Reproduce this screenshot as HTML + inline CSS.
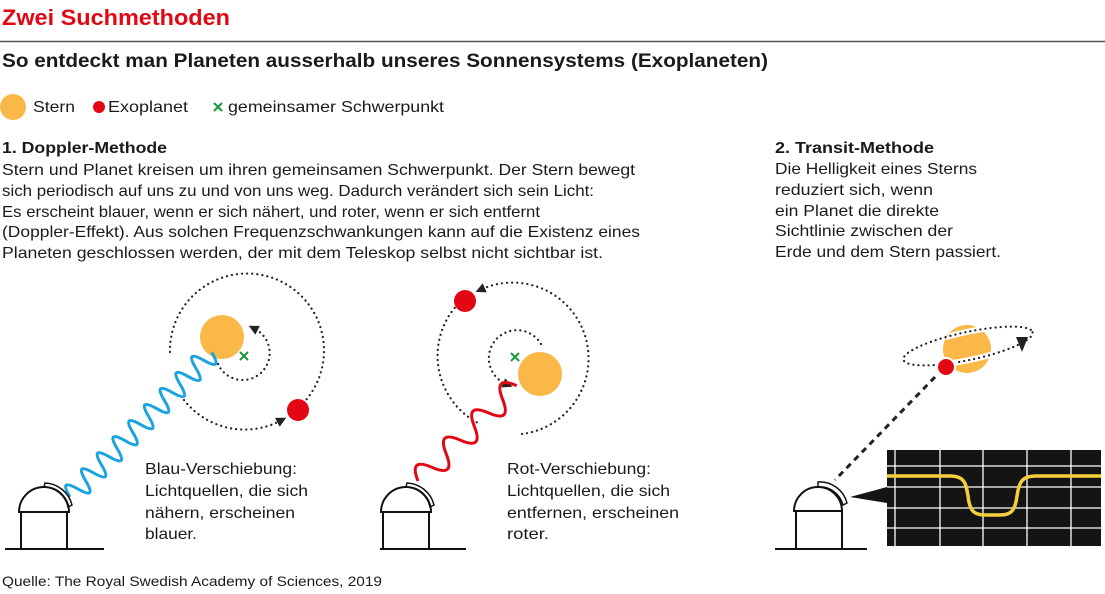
<!DOCTYPE html>
<html><head><meta charset="utf-8"><style>
html,body{margin:0;padding:0;background:#fff}
svg{display:block}
text{font-family:"Liberation Sans",sans-serif;fill:#1a1a1a}
.b{font-weight:bold}
.t{font-size:16px}
</style></head><body>
<svg width="1105" height="594" viewBox="0 0 1105 594" xmlns="http://www.w3.org/2000/svg">
<defs>
<marker id="ar" viewBox="0 0 10 10" refX="3" refY="5" markerWidth="10" markerHeight="10" markerUnits="userSpaceOnUse" orient="auto"><path d="M0,0 L10,5 L0,10 z" fill="#222"/></marker>
<clipPath id="sc"><circle cx="967" cy="349" r="24"/></clipPath>
</defs>
<text x="2" y="25" class="b" font-size="22" fill="#e30613" style="fill:#e30613" textLength="228" lengthAdjust="spacingAndGlyphs">Zwei Suchmethoden</text>
<line x1="0" y1="41.5" x2="1105" y2="41.5" stroke="#555" stroke-width="1.5"/>
<text x="2" y="67" class="b" font-size="19" textLength="766" lengthAdjust="spacingAndGlyphs">So entdeckt man Planeten ausserhalb unseres Sonnensystems (Exoplaneten)</text>
<circle cx="13" cy="107" r="13" fill="#f9b847"/>
<text x="33" y="112" class="t" textLength="42" lengthAdjust="spacingAndGlyphs">Stern</text>
<circle cx="99" cy="107" r="6" fill="#e30613"/>
<text x="108" y="112" class="t" textLength="80" lengthAdjust="spacingAndGlyphs">Exoplanet</text>
<g stroke="#1a9a3a" stroke-width="2"><line x1="214" y1="103" x2="222" y2="111"/><line x1="222" y1="103" x2="214" y2="111"/></g>
<text x="228" y="112" class="t" textLength="216" lengthAdjust="spacingAndGlyphs">gemeinsamer Schwerpunkt</text>

<text x="2" y="153" class="b t" textLength="165" lengthAdjust="spacingAndGlyphs">1. Doppler-Methode</text>
<text x="2" y="175" class="t" textLength="633" lengthAdjust="spacingAndGlyphs">Stern und Planet kreisen um ihren gemeinsamen Schwerpunkt. Der Stern bewegt</text>
<text x="2" y="196" class="t" textLength="592" lengthAdjust="spacingAndGlyphs">sich periodisch auf uns zu und von uns weg. Dadurch verändert sich sein Licht:</text>
<text x="2" y="217" class="t" textLength="538" lengthAdjust="spacingAndGlyphs">Es erscheint blauer, wenn er sich nähert, und roter, wenn er sich entfernt</text>
<text x="2" y="237" class="t" textLength="638" lengthAdjust="spacingAndGlyphs">(Doppler-Effekt). Aus solchen Frequenzschwankungen kann auf die Existenz eines</text>
<text x="2" y="258" class="t" textLength="601" lengthAdjust="spacingAndGlyphs">Planeten geschlossen werden, der mit dem Teleskop selbst nicht sichtbar ist.</text>

<text x="775" y="153" class="b t" textLength="159" lengthAdjust="spacingAndGlyphs">2. Transit-Methode</text>
<text x="775" y="174" class="t" textLength="202" lengthAdjust="spacingAndGlyphs">Die Helligkeit eines Sterns</text>
<text x="775" y="195" class="t" textLength="158" lengthAdjust="spacingAndGlyphs">reduziert sich, wenn</text>
<text x="775" y="216" class="t" textLength="164" lengthAdjust="spacingAndGlyphs">ein Planet die direkte</text>
<text x="775" y="236" class="t" textLength="178" lengthAdjust="spacingAndGlyphs">Sichtlinie zwischen der</text>
<text x="775" y="257" class="t" textLength="226" lengthAdjust="spacingAndGlyphs">Erde und dem Stern passiert.</text>

<!-- LEFT diagram -->
<g fill="none" stroke="#222" stroke-width="2.2" stroke-dasharray="0.1 5" stroke-linecap="round">
<path d="M170,352 A77,77 0 1 1 306,400"/>
<path d="M184,400 A77,77 0 0 0 280,421" marker-end="url(#ar)"/>
<path d="M218,364 A27,27 0 1 0 255,329" marker-end="url(#ar)"/>
</g>
<circle cx="222" cy="337" r="22" fill="#f9b847"/>
<g stroke="#1a9a3a" stroke-width="2"><line x1="240" y1="352" x2="248" y2="360"/><line x1="248" y1="352" x2="240" y2="360"/></g>
<circle cx="298" cy="410" r="11" fill="#e30613"/>
<path transform="translate(70,497) rotate(-45.6)" fill="none" stroke="#1aa3e0" stroke-width="3" d="M0,0 q5.6,-22 11.25,0 t11.25,0 t11.25,0 t11.25,0 t11.25,0 t11.25,0 t11.25,0 t11.25,0 t11.25,0 t11.25,0 t11.25,0 t11.25,0 t11.25,0 t11.25,0 t11.25,0 t11.25,0 t11.25,0 t11.25,0"/>
<text x="145" y="474" class="t" textLength="152" lengthAdjust="spacingAndGlyphs">Blau-Verschiebung:</text>
<text x="145" y="496" class="t" textLength="163" lengthAdjust="spacingAndGlyphs">Lichtquellen, die sich</text>
<text x="145" y="518" class="t" textLength="150" lengthAdjust="spacingAndGlyphs">nähern, erscheinen</text>
<text x="145" y="539" class="t" textLength="52" lengthAdjust="spacingAndGlyphs">blauer.</text>
<g fill="none" stroke="#111" stroke-width="2">
<line x1="5" y1="549" x2="104" y2="549"/>
<path d="M21,549 V512 H67 V549"/>
<path d="M19,512 A25,25 0 0 1 69,512 Z"/>
<path d="M45,483 A29,29 0 0 1 72,505 L68,507 A25,25 0 0 0 44,487 Z" stroke-width="1.5"/>
</g>

<!-- MIDDLE diagram -->
<g fill="none" stroke="#222" stroke-width="2.2" stroke-dasharray="0.1 5" stroke-linecap="round">
<path d="M522,434 A76,76 0 1 0 482,289" marker-end="url(#ar)"/>
<path d="M458,304 A76,76 0 0 0 478,423"/>
<path d="M541,344 A28,28 0 1 0 506,384" marker-end="url(#ar)"/>
</g>
<circle cx="465" cy="301" r="11" fill="#e30613"/>
<circle cx="540" cy="374" r="22" fill="#f9b847"/>
<g stroke="#1a9a3a" stroke-width="2"><line x1="511" y1="353" x2="519" y2="361"/><line x1="519" y1="353" x2="511" y2="361"/></g>
<path transform="translate(418,481) rotate(-44)" fill="none" stroke="#e30613" stroke-width="3" d="M0,0 q9.8,-24 19.6,0 t19.6,0 t19.6,0 t19.6,0 t19.6,0 t19.6,0 t19.6,0"/>
<text x="507" y="474" class="t" textLength="144" lengthAdjust="spacingAndGlyphs">Rot-Verschiebung:</text>
<text x="507" y="496" class="t" textLength="163" lengthAdjust="spacingAndGlyphs">Lichtquellen, die sich</text>
<text x="507" y="518" class="t" textLength="172" lengthAdjust="spacingAndGlyphs">entfernen, erscheinen</text>
<text x="507" y="539" class="t" textLength="42" lengthAdjust="spacingAndGlyphs">roter.</text>
<g fill="none" stroke="#111" stroke-width="2">
<line x1="380" y1="549" x2="466" y2="549"/>
<path d="M383,549 V512 H429 V549"/>
<path d="M381,512 A25,25 0 0 1 431,512 Z"/>
<path d="M407,483 A29,29 0 0 1 434,505 L430,507 A25,25 0 0 0 406,487 Z" stroke-width="1.5"/>
</g>

<!-- RIGHT diagram -->
<circle cx="967" cy="349" r="24" fill="#f9b847"/>
<g transform="rotate(-12 968 346)">
<ellipse cx="968" cy="346" rx="66" ry="14" fill="none" stroke="#fff" stroke-width="6" clip-path="url(#sc)"/>
<ellipse cx="968" cy="346" rx="66" ry="14" fill="none" stroke="#222" stroke-width="2.2" stroke-dasharray="0.1 5" stroke-linecap="round"/>
</g>
<path d="M1016,337 L1028,337 L1022,352 Z" fill="#222"/>
<circle cx="946" cy="367" r="9" fill="#e30613" stroke="#fff" stroke-width="2"/>
<line x1="935" y1="377" x2="835" y2="480" stroke="#222" stroke-width="3" stroke-dasharray="6 5"/>
<rect x="887" y="450" width="214" height="96" fill="#141414"/>
<g stroke="#fff" stroke-width="1.3">
<line x1="895" y1="450" x2="895" y2="546"/><line x1="940" y1="450" x2="940" y2="546"/>
<line x1="983" y1="450" x2="983" y2="546"/><line x1="1027" y1="450" x2="1027" y2="546"/>
<line x1="1071" y1="450" x2="1071" y2="546"/>
<line x1="887" y1="466" x2="1101" y2="466"/><line x1="887" y1="487" x2="1101" y2="487"/>
<line x1="887" y1="508" x2="1101" y2="508"/><line x1="887" y1="528" x2="1101" y2="528"/>
</g>
<path d="M887,476 H950 C965,476 966,484 968,496 C970,514 976,515 988,515 H1000 C1010,515 1015,512 1017,496 C1019,482 1022,476 1036,476 H1101" fill="none" stroke="#f5cf3a" stroke-width="3.5"/>
<path d="M850,497 L887,487 L887,503 Z" fill="#141414"/>
<g fill="none" stroke="#111" stroke-width="2">
<line x1="775" y1="549" x2="867" y2="549"/>
<path d="M796,549 V511 H842 V549"/>
<path d="M794,511 A24,24 0 0 1 842,511 Z"/>
<path d="M818,482 A28,28 0 0 1 847,503 L843,505 A24,24 0 0 0 818,487 Z" stroke-width="1.5"/>
</g>

<text x="2" y="586" font-size="14" textLength="380" lengthAdjust="spacingAndGlyphs">Quelle: The Royal Swedish Academy of Sciences, 2019</text>
</svg>
</body></html>
